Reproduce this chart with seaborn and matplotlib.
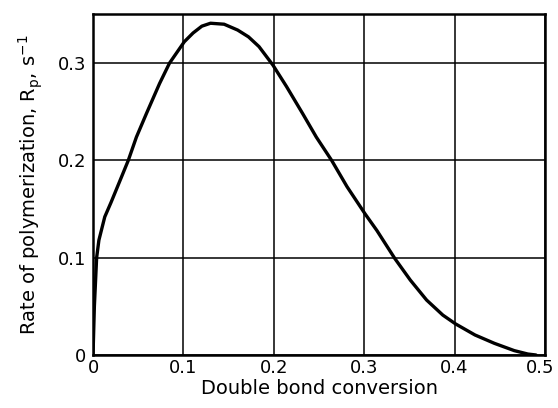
import matplotlib
matplotlib.use("Agg")
import matplotlib.pyplot as plt
import matplotlib.transforms as mtransforms
import seaborn as sns
import pandas as pd

conversion = [0.0, 0.0015, 0.004, 0.0065, 0.013, 0.02, 0.0315, 0.039, 0.048, 0.059,
              0.0736, 0.0846, 0.101, 0.1107, 0.1204, 0.130, 0.145, 0.160, 0.172,
              0.1836, 0.199, 0.214, 0.232, 0.247, 0.264, 0.281, 0.301, 0.314,
              0.334, 0.351, 0.369, 0.387, 0.401, 0.4225, 0.444, 0.466, 0.481, 0.49]
rate = [0.0, 0.05, 0.1, 0.118, 0.142, 0.157, 0.183, 0.2, 0.224, 0.248,
        0.279, 0.3, 0.322, 0.331, 0.338, 0.341, 0.340, 0.334, 0.327,
        0.317, 0.298, 0.276, 0.248, 0.224, 0.2, 0.173, 0.145, 0.128,
        0.099, 0.077, 0.0565, 0.041, 0.032, 0.0206, 0.012, 0.0045, 0.001, 0.0]
x_ticks = [0, 0.1, 0.2, 0.3, 0.4, 0.5]
x_tick_labels = ["0", "0.1", "0.2", "0.3", "0.4", "0.5"]
y_ticks = [0, 0.1, 0.2, 0.3]
y_tick_labels = ["0", "0.1", "0.2", "0.3"]

df = pd.DataFrame({"conversion": conversion, "rate": rate})

sns.set_style("white")
plt.rcParams['font.family'] = ['DejaVu Sans']
plt.rcParams['lines.solid_joinstyle'] = 'round'

fig = plt.figure(figsize=(5.58, 4.08), dpi=100)
ax = fig.add_axes([0.1667, 0.1299, 0.81, 0.8346])

sns.lineplot(data=df, x="conversion", y="rate", ax=ax, color="black",
             linewidth=2.4, sort=False, zorder=3)

ax.set_xlim(0, 0.5)
ax.set_ylim(0, 0.35)
ax.set_xticks(x_ticks)
ax.set_xticklabels(x_tick_labels)
ax.set_yticks(y_ticks)
ax.set_yticklabels(y_tick_labels)
ax.tick_params(length=0, labelsize=13, colors="black")
ax.tick_params(axis="x", pad=3)
ax.tick_params(axis="y", pad=5)
ax.grid(True, color="black", linewidth=1.1)
for s in ax.spines.values():
    s.set_color("black")
    s.set_linewidth(1.8)
ax.set_xlabel("Double bond conversion", fontsize=14, color="black", labelpad=1)
ax.set_ylabel("Rate of polymerization, R$_\\mathregular{p}$, s$^{\\mathregular{-1}}$",
              fontsize=14, color="black", labelpad=9)

# nudge the last x tick label left so it stays inside the figure
last = ax.get_xticklabels()[-1]
last.set_transform(last.get_transform() +
                   mtransforms.ScaledTranslation(-0.045, 0, fig.dpi_scale_trans))

fig.savefig("out.png", dpi=100)
